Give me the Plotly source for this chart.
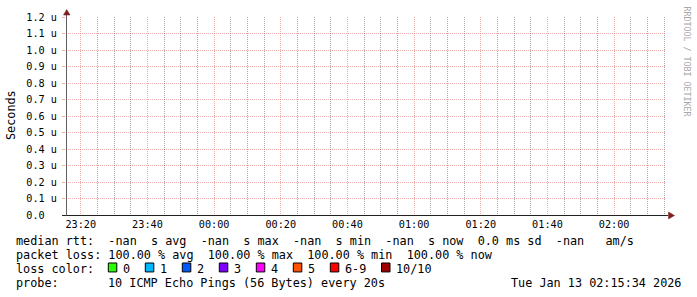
import plotly.graph_objects as go
import pandas as pd

# ---------------- data ----------------
TIME_START = "2026-01-12 23:15:34"
TIME_END = "2026-01-13 02:15:34"
sample_times = [TIME_START, TIME_END]
median_rtt = [None, None]          # every ping lost -> no rtt (-nan)

y_tick_vals = [0.0, 0.1, 0.2, 0.3, 0.4, 0.5, 0.6, 0.7, 0.8, 0.9, 1.0, 1.1, 1.2]
y_tick_text = ["0.0  ", "0.1 u", "0.2 u", "0.3 u", "0.4 u", "0.5 u", "0.6 u",
               "0.7 u", "0.8 u", "0.9 u", "1.0 u", "1.1 u", "1.2 u"]

rtt_avg, rtt_max, rtt_min, rtt_now, rtt_sd, rtt_am = "-nan", "-nan", "-nan", "-nan", "0.0", "-nan"
loss_avg, loss_max, loss_min, loss_now = 100.00, 100.00, 100.00, 100.00

loss_labels = ["0", "1", "2", "3", "4", "5", "6-9", "10/10"]
loss_colors = ["#26ff00", "#00b8ff", "#0059ff", "#7e00ff", "#ff00ff", "#ff5500", "#ff0000", "#a00000"]

probe_text = "10 ICMP Echo Pings (56 Bytes) every 20s"
stamp_text = "Tue Jan 13 02:15:34 2026"
y_title = "Seconds"
watermark = "RRDTOOL / TOBI OETIKER"

MAJOR_MIN = 20   # minutes between labelled grid lines
MINOR_MIN = 5    # minutes between minor grid lines

# ---------------- layout helpers ----------------
WIDTH, HEIGHT = 697, 297
L, T, W, H = 66, 15, 600, 200
MONO = "DejaVu Sans Mono"
LEG = 11.8
CH = 7.1


def px(x):
    return (x - L) / W


def py(y):
    return (T + H - y) / H


def nb(s):
    return s.replace(" ", "\u00a0")


GRID = "#a8a8a8"
MGRID = "rgba(222,79,79,0.45)"

fig = go.Figure()
fig.add_trace(go.Scatter(x=sample_times, y=median_rtt, mode="lines",
                         line=dict(color="#00ff00", width=1), showlegend=False,
                         hoverinfo="skip"))

fig.update_layout(
    width=WIDTH, height=HEIGHT,
    margin=dict(l=L, r=WIDTH - L - W, t=T, b=HEIGHT - T - H, pad=0),
    paper_bgcolor="white", plot_bgcolor="white",
    showlegend=False,
    font=dict(family=MONO, size=10.2, color="black"),
    xaxis=dict(
        type="date", range=[TIME_START, TIME_END],
        tick0="2026-01-12 23:20:00", dtick=MAJOR_MIN * 60 * 1000, tickformat="%H:%M",
        showgrid=True, gridcolor=MGRID, griddash="1px,1px", gridwidth=1,
        ticks="", showline=False, zeroline=False,
        ticklabelstandoff=2,
        tickfont=dict(family=MONO, size=10.2, color="black"),
        minor=dict(tick0="2026-01-12 23:20:00", dtick=MINOR_MIN * 60 * 1000,
                   showgrid=True, gridcolor=GRID, griddash="1px,1px", gridwidth=1),
        fixedrange=True,
    ),
    yaxis=dict(
        range=[0, 1.2], tickmode="array", tickvals=y_tick_vals, ticktext=y_tick_text,
        showgrid=True, gridcolor=MGRID, griddash="1px,1px", gridwidth=1,
        ticks="outside", ticklen=3, tickcolor=MGRID, tickwidth=1,
        showline=False, zeroline=False,
        ticklabelstandoff=3,
        tickfont=dict(family=MONO, size=10.2, color="black"),
        fixedrange=True,
    ),
)

shapes = []
# axes
shapes.append(dict(type="line", xref="paper", yref="paper", x0=px(62), x1=px(668),
                   y0=py(215.5), y1=py(215.5), line=dict(color="#1f1f1f", width=1), layer="above"))
shapes.append(dict(type="line", xref="paper", yref="paper", x0=px(66.5), x1=px(66.5),
                   y0=py(215.5), y1=py(12), line=dict(color="#606060", width=1), layer="above"))
# arrows
shapes.append(dict(type="path", xref="paper", yref="paper",
                   path=f"M {px(63.5)},{py(13)} L {px(70)},{py(13)} L {px(66.75)},{py(7.5)} Z",
                   fillcolor="#7f1f1f", line=dict(color="#7f1f1f", width=0.5), layer="above"))
shapes.append(dict(type="path", xref="paper", yref="paper",
                   path=f"M {px(668.5)},{py(212)} L {px(668.5)},{py(219)} L {px(674.5)},{py(215.5)} Z",
                   fillcolor="#7f1f1f", line=dict(color="#7f1f1f", width=0.5), layer="above"))

annotations = []


def text(x, y, s, anchor="left", size=LEG, color="black", angle=0, yanchor="middle"):
    annotations.append(dict(xref="paper", yref="paper", x=px(x), y=py(y), text=nb(s),
                            showarrow=False, xanchor=anchor, yanchor=yanchor,
                            textangle=angle, borderpad=0, borderwidth=0,
                            font=dict(family=MONO, size=size, color=color)))


row_y = [241.5, 255.5, 269.5, 283.5]
row1 = (f"median rtt:  {rtt_avg}  s avg  {rtt_max}  s max  {rtt_min}  s min  "
        f"{rtt_now}  s now  {rtt_sd} ms sd  {rtt_am}   am/s")
row2 = (f"packet loss: {loss_avg:.2f} % avg  {loss_max:.2f} % max  "
        f"{loss_min:.2f} % min  {loss_now:.2f} % now")
text(16, row_y[0], row1)
text(16, row_y[1], row2)
text(16, row_y[2], "loss color:")

bx = 16 + 13 * CH
for lab, col in zip(loss_labels, loss_colors):
    shapes.append(dict(type="rect", xref="paper", yref="paper",
                       x0=px(bx), x1=px(bx + 8.5), y0=py(263.5), y1=py(272.5),
                       fillcolor=col, line=dict(color="black", width=1), layer="above"))
    text(bx + 14.5, row_y[2], lab)
    bx += 29.9 + len(lab) * CH

text(16, row_y[3], "probe:")
text(16 + 13 * CH, row_y[3], probe_text)
text(681, row_y[3], stamp_text, anchor="right")

# y title and watermark
text(11, 114, y_title, anchor="center", angle=-90)
text(687, 60, watermark, anchor="center", size=8.3, color="#a8a8a8", angle=90)

fig.update_layout(shapes=shapes, annotations=annotations)
fig.write_html("out.html")
